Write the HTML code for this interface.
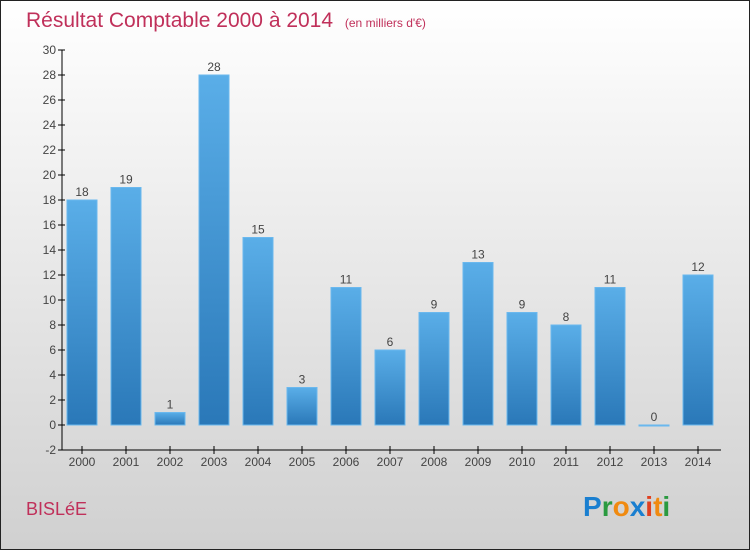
<!DOCTYPE html>
<html><head><meta charset="utf-8"><style>
body{margin:0;width:750px;height:550px;overflow:hidden;font-family:"Liberation Sans",sans-serif}
</style></head><body>
<svg id="c" width="750" height="550" xmlns="http://www.w3.org/2000/svg">
<defs>
<linearGradient id="bg" x1="0" y1="0" x2="0" y2="1"><stop offset="0" stop-color="#ffffff"/><stop offset="1" stop-color="#d0d0d0"/></linearGradient>
<linearGradient id="bar" x1="0" y1="0" x2="0" y2="1"><stop offset="0" stop-color="#5aaee8"/><stop offset="1" stop-color="#2a78b8"/></linearGradient>
</defs>
<rect x="0.5" y="0.5" width="749" height="549" fill="url(#bg)" stroke="#222"/>
<text x="26" y="27" font-size="21" fill="#c0305a">Résultat Comptable 2000 à 2014 <tspan font-size="12" dx="6">(en milliers d'€)</tspan></text>
<text x="26" y="515" font-size="18" fill="#c0305a">BISLéE</text>
<g font-size="28" font-weight="bold">
<text x="583" y="516" fill="#1a7fd0">P<tspan fill="#2a9a40">r</tspan><tspan fill="#f08a10">o</tspan><tspan fill="#1a7fd0">x</tspan><tspan fill="#e04020">i</tspan><tspan fill="#f08a10">t</tspan><tspan fill="#2a9a40">i</tspan></text>
</g>
<g id="axes"></g><g id="bars"></g>
</svg>
<script>
const categories=["2000","2001","2002","2003","2004","2005","2006","2007","2008","2009","2010","2011","2012","2013","2014"];
const values=[18,19,1,28,15,3,11,6,9,13,9,8,11,0,12];
const yTicks=[-2,0,2,4,6,8,10,12,14,16,18,20,22,24,26,28,30];
const NS="http://www.w3.org/2000/svg";
const y=v=>425-v*12.5;
const x=i=>82+i*44;
function el(t,a,p){const e=document.createElementNS(NS,t);for(const k in a)e.setAttribute(k,a[k]);p.appendChild(e);return e;}
const ax=document.getElementById('axes'),bg=document.getElementById('bars');
let l=el('line',{x1:62,y1:y(30),x2:62,y2:y(-2),stroke:'#000'},ax);


l=el('line',{x1:62,y1:y(-2),x2:721,y2:y(-2),stroke:'#000'},ax);


yTicks.forEach(v=>{
 el('line',{x1:58,y1:y(v),x2:65,y2:y(v),stroke:'#000'},ax);
 const t=el('text',{x:56,y:y(v)+4,'text-anchor':'end','font-size':12,fill:'#444'},ax);t.textContent=v;
 
 
});
categories.forEach((c,i)=>{
 el('line',{x1:x(i),y1:y(-2)-4,x2:x(i),y2:y(-2)+4,stroke:'#000'},ax);
 const t=el('text',{x:x(i),y:466,'text-anchor':'middle','font-size':12,fill:'#444'},ax);t.textContent=c;
 
 
 const v=values[i];
 const top=Math.min(y(v),y(0)),h=Math.max(Math.abs(y(v)-y(0)),1);
 const r=el('rect',{x:x(i)-15,y:top,width:30,height:h,fill:'url(#bar)',stroke:'#6ab8ee','stroke-width':1},bg);
 
 
 const lb=el('text',{x:x(i),y:top-4,'text-anchor':'middle','font-size':12,fill:'#444'},bg);lb.textContent=v;
 
 
});
</script>
</body></html>
